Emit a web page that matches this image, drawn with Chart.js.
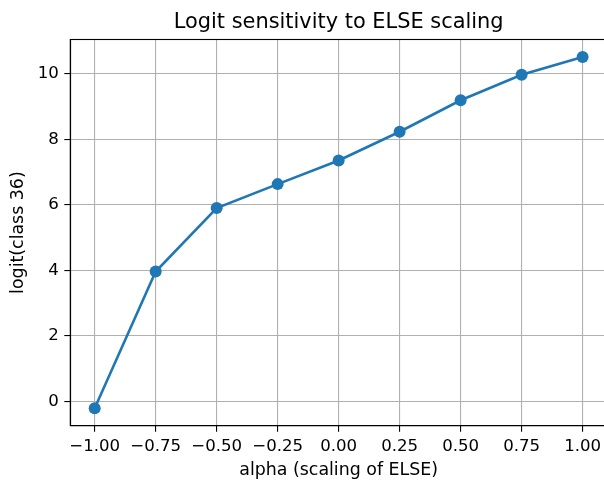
<!DOCTYPE html>
<html>
<head>
<meta charset="utf-8">
<script src="https://cdn.jsdelivr.net/npm/chart.js@4.4.0/dist/chart.umd.min.js"></script>
<style>
    html, body { margin: 0; padding: 0; overflow: hidden; background: #ffffff; }
    #wrap { width: 613px; height: 483px; }
</style>
</head>
<body>
<div id="wrap"><canvas id="sensitivity" width="613" height="483"></canvas></div>
<script>
// alpha values (x) and the logit of class 36 (y)
var alphaValues = [-1.00, -0.75, -0.50, -0.25, 0.00, 0.25, 0.50, 0.75, 1.00];
var logitValues = [-0.21, 3.96, 5.90, 6.63, 7.35, 8.23, 9.19, 9.97, 10.51];
var xTickValues = [-1.00, -0.75, -0.50, -0.25, 0.00, 0.25, 0.50, 0.75, 1.00];
var yTickValues = [0, 2, 4, 6, 8, 10];
var chartTitle = 'Logit sensitivity to ELSE scaling';

var LINE_BLUE = '#1f77b4';
var GRID_GREY = '#b0b0b0';
var FONT = 'DejaVu Sans';

function minusSign(txt) {
    return txt.replace('-', '\u2212');
}

// matplotlib draws the box on all four sides and centres the title on the axes
// (the right side of the original figure is cut off, so the canvas is a bit wider than the window)
var framePlugin = {
    id: 'frame',
    afterDatasetsDraw: function (chart) {
        var a = chart.chartArea;
        var ctx = chart.ctx;
        ctx.save();
        ctx.strokeStyle = '#000000';
        ctx.lineWidth = 1.1;
        ctx.strokeRect(a.left, a.top, a.right - a.left, a.bottom - a.top);
        ctx.fillStyle = '#000000';
        ctx.font = '20.9px "' + FONT + '"';
        ctx.textAlign = 'center';
        ctx.textBaseline = 'middle';
        ctx.fillText(chartTitle, (a.left + a.right) / 2, 22.1);
        ctx.restore();
    }
};

var points = [];
for (var i = 0; i < alphaValues.length; i++) {
    points.push({x: alphaValues[i], y: logitValues[i]});
}

var config = {
    type: 'line',
    data: {
        datasets: [{
            data: points,
            borderColor: LINE_BLUE,
            backgroundColor: LINE_BLUE,
            borderWidth: 2.6,
            pointRadius: 6,
            pointHoverRadius: 6,
            pointBorderWidth: 0,
            pointBackgroundColor: LINE_BLUE,
            tension: 0,
            clip: false
        }]
    },
    options: {
        responsive: false,
        devicePixelRatio: 1,
        animation: false,
        layout: { padding: { top: 39.5, left: 0, right: 0, bottom: 0 } },
        plugins: {
            legend: { display: false },
            tooltip: { enabled: false },
            title: { display: false }
        },
        scales: {
            x: {
                type: 'linear',
                min: -1.1,
                max: 1.1,
                afterFit: function (scale) {
                    scale.height = 57.3;
                    scale.paddingLeft = 0;
                    scale.paddingRight = 0;
                },
                afterBuildTicks: function (scale) {
                    scale.ticks = xTickValues.map(function (v) { return {value: v}; });
                },
                ticks: {
                    color: '#000000',
                    font: { family: FONT, size: 16.6 },
                    padding: 5.3,
                    maxRotation: 0,
                    autoSkip: false,
                    callback: function (v) { return minusSign(Number(v).toFixed(2)); }
                },
                grid: { color: GRID_GREY, lineWidth: 1.1, tickColor: '#000000', tickLength: 6 },
                border: { display: true, color: '#000000', width: 1.1 },
                title: {
                    display: true,
                    text: 'alpha (scaling of ELSE)',
                    color: '#000000',
                    font: { family: FONT, size: 17.4 },
                    padding: { top: 0, bottom: 2.5 }
                }
            },
            y: {
                type: 'linear',
                min: -0.745,
                max: 11.045,
                afterFit: function (scale) {
                    scale.width = 70.3;
                    scale.paddingTop = 0;
                    scale.paddingBottom = 0;
                },
                afterBuildTicks: function (scale) {
                    scale.ticks = yTickValues.map(function (v) { return {value: v}; });
                },
                ticks: {
                    color: '#000000',
                    font: { family: FONT, size: 16.6 },
                    padding: 5.5,
                    autoSkip: false,
                    callback: function (v) { return minusSign(String(v)); }
                },
                grid: { color: GRID_GREY, lineWidth: 1.1, tickColor: '#000000', tickLength: 6 },
                border: { display: true, color: '#000000', width: 1.1 },
                title: {
                    display: true,
                    text: 'logit(class 36)',
                    color: '#000000',
                    font: { family: FONT, size: 17.4 },
                    padding: { top: 8, bottom: 0 }
                }
            }
        }
    },
    plugins: [framePlugin]
};

window.onload = function () {
    var ctx = document.getElementById('sensitivity').getContext('2d');
    window.sensitivityChart = new Chart(ctx, config);
};
</script>
</body>
</html>
